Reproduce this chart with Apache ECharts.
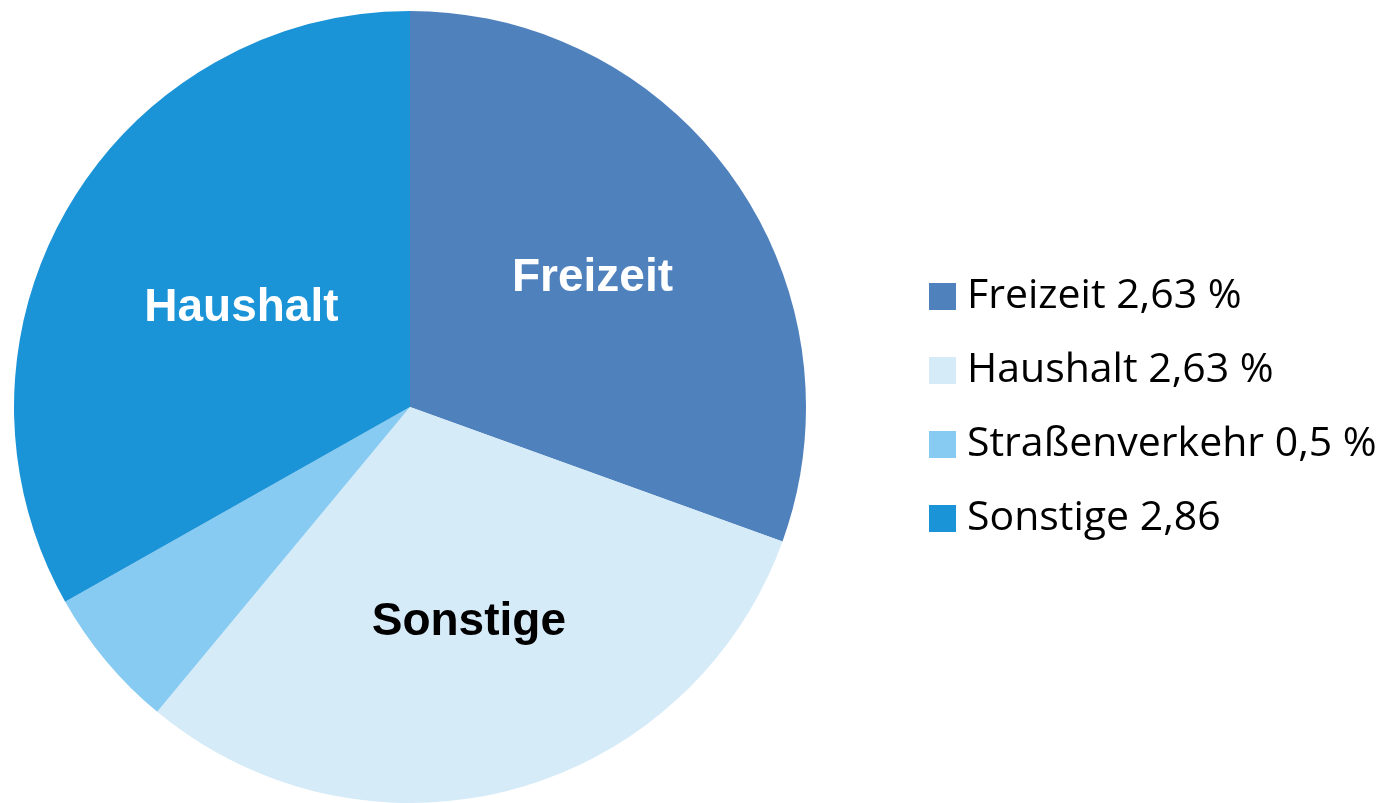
<!DOCTYPE html>
<html>
<head>
<meta charset="utf-8">
<script src="https://cdn.jsdelivr.net/npm/echarts@6/dist/echarts.min.js"></script>
<style>
  html, body { margin: 0; padding: 0; background: #fff; }
  #chart { width: 1392px; height: 803px; }
</style>
</head>
<body>
<div id="chart"></div>
<script>
// legend names and values (as printed in the legend)
const categories = ['Freizeit', 'Haushalt', 'Straßenverkehr', 'Sonstige']
const values = [2.63, 2.63, 0.5, 2.86]
const legendValues = ['2,63 %', '2,63 %', '0,5 %', '2,86']
// text written inside the slices (the original labels them this way)
const sliceLabels = ['Freizeit', 'Sonstige', '', 'Haushalt']

const colors = ['#4F81BD', '#D5EBF8', '#87CBF2', '#1B93D7']
const labelColors = ['#ffffff', '#000000', '#000000', '#ffffff']
// nudge labels a bit off the default mid-radius spot
const labelOffsets = [[18, -13], [6, 21], [0, 0], [5, 3]]

const chart = echarts.init(document.getElementById('chart'))

chart.setOption({
  animation: false,
  legend: {
    orient: 'vertical',
    left: 924,
    top: 271,
    itemWidth: 27,
    itemHeight: 27,
    itemGap: 33,
    icon: 'rect',
    textStyle: {
      fontFamily: 'Open Sans',
      fontSize: 41,
      color: '#000',
      padding: [0, 0, 0, 6]
    },
    formatter: (name) => name + ' ' + legendValues[categories.indexOf(name)],
    data: categories
  },
  series: [
    {
      type: 'pie',
      center: [410, 407],
      radius: 396,
      startAngle: 90,
      clockwise: true,
      silent: true,
      labelLine: { show: false },
      data: categories.map((name, i) => ({
        name,
        value: values[i],
        itemStyle: { color: colors[i] },
        label: {
          show: sliceLabels[i] !== '',
          position: 'inside',
          formatter: sliceLabels[i],
          color: labelColors[i],
          offset: labelOffsets[i],
          fontFamily: 'Liberation Sans',
          fontWeight: 'bold',
          fontSize: 46
        }
      }))
    }
  ]
})
</script>
</body>
</html>
